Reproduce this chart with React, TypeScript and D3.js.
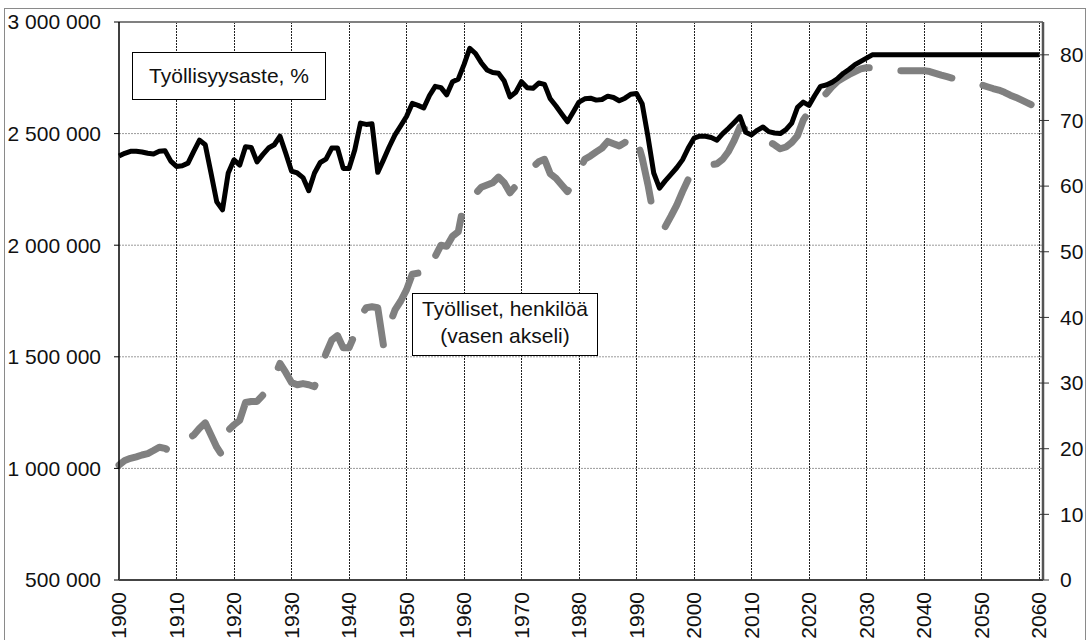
import React from 'react';
import * as d3 from 'd3';

// Years on the category axis
const years = d3.range(1900, 2061);

// Työllisyysaste, % (right axis)
const employmentRate = [
  64.6, 65.0, 65.3, 65.3, 65.2, 65.0, 64.9, 65.3, 65.4, 63.8,
  63.0, 63.1, 63.5, 65.3, 67.0, 66.3, 62.0, 57.6, 56.4, 62.0,
  64.0, 63.2, 66.0, 65.9, 63.7, 64.8, 65.8, 66.3, 67.6, 65.0,
  62.3, 62.0, 61.3, 59.3, 62.0, 63.6, 64.1, 65.8, 65.8, 62.7,
  62.7, 65.5, 69.6, 69.4, 69.5, 62.1, 64.0, 66.0, 67.8, 69.2,
  70.6, 72.6, 72.3, 71.9, 73.8, 75.2, 75.0, 73.9, 75.9, 76.3,
  78.5, 81.0, 80.2, 78.8, 77.7, 77.3, 77.2, 76.0, 73.6, 74.3,
  75.9, 75.0, 74.9, 75.7, 75.5, 73.3, 72.2, 71.0, 69.8, 71.3,
  72.8, 73.3, 73.4, 73.1, 73.2, 73.7, 73.5, 73.0, 73.4, 74.0,
  74.1, 72.5, 67.5, 62.0, 59.7, 60.8, 61.8, 62.8, 64.0, 65.8,
  67.3, 67.6, 67.6, 67.4, 67.0, 68.0, 68.8, 69.7, 70.6, 68.2,
  67.8, 68.5, 69.0, 68.3, 68.1, 68.0, 68.6, 69.6, 72.0, 72.8,
  72.3, 73.8, 75.2, 75.4, 75.8, 76.4, 77.2, 77.8, 78.5, 79.0,
  79.5, 80, 80, 80, 80, 80, 80, 80, 80, 80,
  80, 80, 80, 80, 80, 80, 80, 80, 80, 80,
  80, 80, 80, 80, 80, 80, 80, 80, 80, 80,
  80,
];

// Työlliset, henkilöä (left axis)
const employed = [
  1015000, 1035000, 1045000, 1052000, 1060000, 1066000, 1080000, 1095000, 1090000, 1075000,
  1090000, 1110000, 1130000, 1150000, 1180000, 1204000, 1150000, 1095000, 1055000, 1170000,
  1195000, 1216000, 1295000, 1300000, 1300000, 1328000, 1360000, 1410000, 1470000, 1430000,
  1385000, 1375000, 1380000, 1375000, 1366000, 1440000, 1515000, 1575000, 1595000, 1540000,
  1540000, 1600000, 1680000, 1720000, 1724000, 1720000, 1550000, 1640000, 1710000, 1750000,
  1800000, 1870000, 1875000, 1880000, 1870000, 1950000, 2000000, 1995000, 2040000, 2060000,
  2190000, 2200000, 2230000, 2260000, 2270000, 2280000, 2305000, 2280000, 2235000, 2265000,
  2292000, 2320000, 2350000, 2374000, 2385000, 2320000, 2300000, 2270000, 2240000, 2275000,
  2330000, 2385000, 2400000, 2418000, 2435000, 2465000, 2455000, 2445000, 2460000, 2505000,
  2480000, 2390000, 2270000, 2130000, 2090000, 2083000, 2130000, 2180000, 2240000, 2295000,
  2330000, 2345000, 2355000, 2360000, 2365000, 2385000, 2420000, 2470000, 2530000, 2520000,
  2500000, 2495000, 2480000, 2465000, 2450000, 2432000, 2440000, 2460000, 2490000, 2560000,
  2600000, 2610000, 2655000, 2680000, 2710000, 2735000, 2750000, 2765000, 2778000, 2790000,
  2795000, 2795000, 2795000, 2793000, 2792000, 2783000, 2782000, 2782000, 2782000, 2782000,
  2782000, 2778000, 2770000, 2762000, 2755000, 2748000, 2740000, 2734000, 2728000, 2725000,
  2718000, 2710000, 2702000, 2695000, 2685000, 2672000, 2662000, 2650000, 2638000, 2625000,
  2612000,
];

const leftTicks = [500000, 1000000, 1500000, 2000000, 2500000, 3000000];
const rightTicks = [0, 10, 20, 30, 40, 50, 60, 70, 80];
const decadeTicks = d3.range(1900, 2061, 10);

const W = 1087;
const H = 640;
const plot = { left: 119, right: 1043, top: 22, bottom: 580 };
const FONT = '"Liberation Sans", Arial, Helvetica, sans-serif';
const FS = 21;

const fi = d3.formatLocale({ decimal: ',', thousands: '\u00a0', grouping: [3], currency: ['', ' €'] });
const fmt = fi.format(',d');

export default function App() {
  const x = d3.scaleLinear().domain([1900, 2060.7]).range([plot.left, plot.right]);
  const yLeft = d3.scaleLinear().domain([500000, 3000000]).range([plot.bottom, plot.top]);
  const yRight = d3.scaleLinear().domain([0, 85]).range([plot.bottom, plot.top]);

  const employedLine = d3
    .line<number>()
    .x((_, i) => x(years[i]))
    .y((d) => yLeft(d));

  const rateLine = d3
    .line<number>()
    .x((_, i) => x(years[i]))
    .y((d) => yRight(d));

  return (
    <svg
      width={W}
      height={H}
      style={{ position: 'absolute', left: 0, top: 0, background: '#fff' }}
      fontFamily={FONT}
    >
      {/* outer frame */}
      <rect x={4.5} y={8.5} width={1081} height={H} fill="none" stroke="#8a8a8a" strokeWidth={1} />

      {/* horizontal grid */}
      {leftTicks.slice(1, -1).map((t) => (
        <line
          key={'h' + t}
          x1={plot.left}
          x2={plot.right}
          y1={yLeft(t)}
          y2={yLeft(t)}
          stroke="#9a9a9a"
          strokeWidth={1}
          strokeDasharray="2,1"
        />
      ))}

      {/* vertical grid */}
      {decadeTicks.slice(1).map((t) => (
        <line
          key={'v' + t}
          x1={Math.round(x(t)) + 0.5}
          x2={Math.round(x(t)) + 0.5}
          y1={plot.top}
          y2={plot.bottom}
          stroke="#222"
          strokeWidth={1}
          strokeDasharray="2,1"
        />
      ))}

      {/* plot frame */}
      <line x1={plot.left} x2={plot.right} y1={plot.top} y2={plot.top} stroke="#808080" strokeWidth={2} />

      {/* employed persons, thick dashed grey */}
      <path
        d={employedLine(employed) || ''}
        fill="none"
        stroke="#808080"
        strokeWidth={7}
        strokeLinecap="round"
        strokeLinejoin="round"
        strokeDasharray="52,32"
      />

      {/* employment rate, black */}
      <path
        d={rateLine(employmentRate) || ''}
        fill="none"
        stroke="#000"
        strokeWidth={5}
        strokeLinejoin="round"
      />

      {/* axes */}
      <line x1={plot.left} x2={plot.left} y1={plot.top} y2={plot.bottom} stroke="#000" strokeWidth={1.5} />
      <line x1={plot.left} x2={plot.right} y1={plot.bottom} y2={plot.bottom} stroke="#444" strokeWidth={2} />
      <line x1={plot.right} x2={plot.right} y1={plot.top} y2={plot.bottom} stroke="#555" strokeWidth={2.5} />

      {/* left axis ticks & labels */}
      {leftTicks.map((t) => (
        <g key={'l' + t} transform={`translate(0,${yLeft(t)})`}>
          <line x1={plot.left - 5} x2={plot.left} stroke="#000" strokeWidth={1} />
          <text x={101} dy="0.35em" textAnchor="end" fontSize={FS} fill="#111">
            {fmt(t)}
          </text>
        </g>
      ))}

      {/* right axis ticks & labels */}
      {rightTicks.map((t) => (
        <g key={'r' + t} transform={`translate(0,${yRight(t)})`}>
          <line x1={plot.right - 4} x2={plot.right + 6} stroke="#333" strokeWidth={1} />
          <text x={1060} dy="0.35em" textAnchor="start" fontSize={FS} fill="#111">
            {t}
          </text>
        </g>
      ))}

      {/* x axis labels */}
      {decadeTicks.map((t) => (
        <text
          key={'x' + t}
          transform={`translate(${x(t)},${plot.bottom + 12}) rotate(-90)`}
          dy="0.35em"
          textAnchor="end"
          fontSize={FS}
          fill="#111"
        >
          {t}
        </text>
      ))}

      {/* legend boxes */}
      <rect x={132.5} y={52.5} width={193} height={47} fill="#fff" stroke="#000" strokeWidth={1} />
      <text x={229} y={76} dy="0.35em" textAnchor="middle" fontSize={FS} fill="#111">
        Työllisyysaste, %
      </text>

      <rect x={412.5} y={293.5} width={185} height={62} fill="#fff" stroke="#000" strokeWidth={1} />
      <text x={505} y={316} textAnchor="middle" fontSize={FS} fill="#111">
        Työlliset, henkilöä
      </text>
      <text x={505} y={343} textAnchor="middle" fontSize={FS} fill="#111">
        (vasen akseli)
      </text>
    </svg>
  );
}
